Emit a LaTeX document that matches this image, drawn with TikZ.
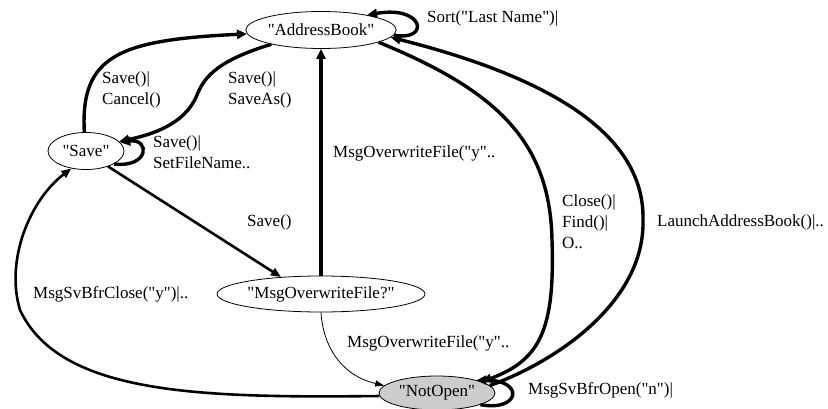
\documentclass[tikz,border=0pt]{standalone}
\usepackage{fontspec}
\setmainfont{Liberation Serif}[Ligatures=TeXOff]
\usetikzlibrary{arrows.meta,shapes.geometric}
\begin{document}
\begin{tikzpicture}[x=1pt,y=-1pt,
  every node/.style={font=\fontsize{17}{21}\selectfont},
  state/.style={ellipse,draw,line width=0.8pt,inner sep=0pt},
  lbl/.style={anchor=west,align=left,inner sep=0pt},
  edge/.style={line width=3.4pt,-{Triangle[length=10pt,width=9pt]}},
  midedge/.style={line width=2.6pt,-{Triangle[length=10pt,width=8pt]}},
  thinedge/.style={line width=0.8pt,-{Triangle[length=9pt,width=6pt]}}]
\useasboundingbox[fill=white] (0,0) rectangle (828,409);

% states
\node[state,minimum width=148pt,minimum height=37pt] (ab) at (321,30) {"AddressBook"};
\node[state,minimum width=76pt,minimum height=37pt] (sv) at (86,151) {"Save"};
\node[state,minimum width=198pt,minimum height=36pt] (mo) at (321,294) {"MsgOverwriteFile?"};
\node[state,fill=black!20,minimum width=116pt,minimum height=34pt] (no) at (437,393) {"NotOpen"};

% transitions
\draw[edge] (ab.-4) .. controls (430,42) and (425,5) .. (ab.18);
\draw[edge] (sv.95) .. controls (80,55) and (120,40) .. (ab.183);
\draw[edge] (ab.196) .. controls (220,60) and (205,75) .. (197,95)
  .. controls (185,125) and (150,135) .. (sv.16);
\draw[edge] (sv.-25) .. controls (150,168) and (150,138) .. (sv.14);
\draw[midedge] (sv.-35) -- (mo.157);
\draw[edge] (mo) -- (ab);
\draw[thinedge] (mo.south) .. controls (323,345) and (340,375) .. (no.172);
\draw[edge] (ab.-12) .. controls (495,90) and (550,140) .. (552,240)
  .. controls (555,330) and (540,360) .. (no.14);
\draw[edge] (no.8) .. controls (560,360) and (645,300) .. (643,220)
  .. controls (645,130) and (540,75) .. (ab.-6);
\draw[edge] (no.-15) .. controls (520,412) and (525,380) .. (no.18);
\draw[midedge] (no.183) .. controls (200,398) and (60,395) .. (20,310)
  .. controls (5,260) and (30,200) .. (sv.230);

% transition labels
\node[lbl] (l1) at (427,18) {Sort("Last Name")|};
\node[lbl] (l2) at (102,90) {Save()|\\Cancel()};
\node[lbl] (l3) at (228,90) {Save()|\\SaveAs()};
\node[lbl] (l4) at (153,152) {Save()|\\SetFileName..};
\node[lbl] (l5) at (247,222) {Save()};
\node[lbl] (l6) at (333,153) {MsgOverwriteFile("y"..};
\node[lbl] (l7) at (347,343) {MsgOverwriteFile("y"..};
\node[lbl] (l8) at (562,222) {Close()|\\Find()|\\O..};
\node[lbl] (l9) at (657,222) {LaunchAddressBook()|..};
\node[lbl] (l10) at (528,390) {MsgSvBfrOpen("n")|};
\node[lbl] (l11) at (33,294) {MsgSvBfrClose("y")|..};
\end{tikzpicture}
\end{document}
